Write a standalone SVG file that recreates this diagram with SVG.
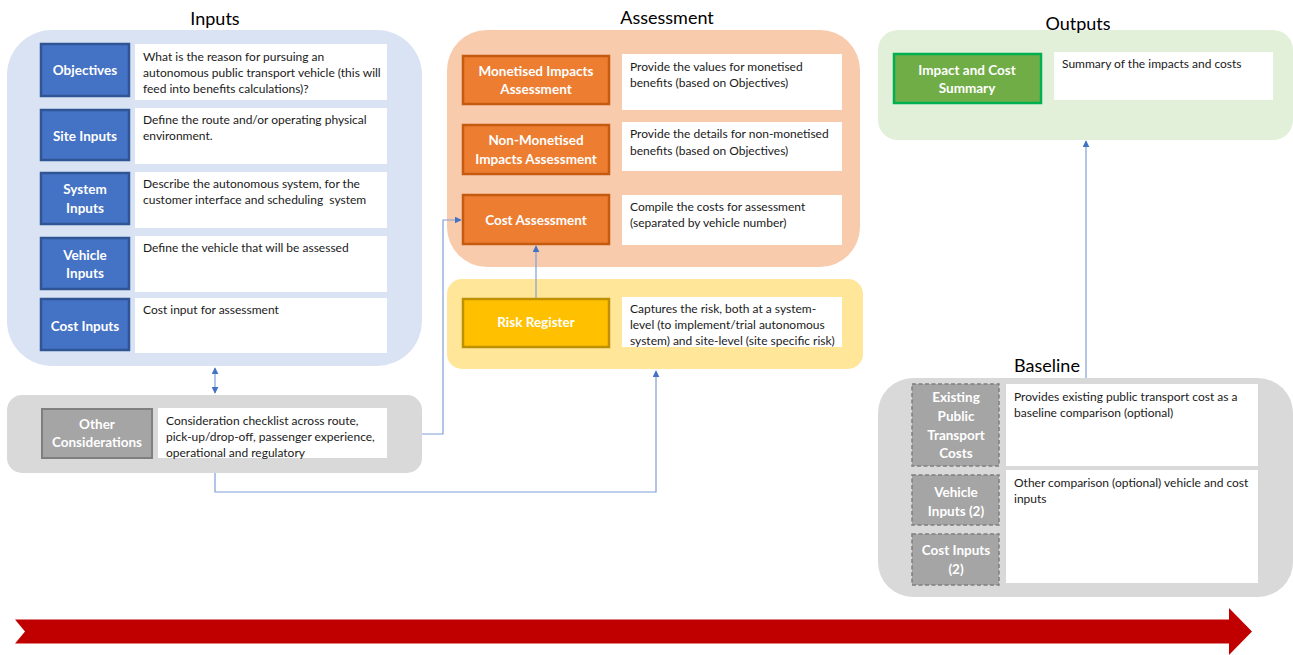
<svg xmlns="http://www.w3.org/2000/svg" width="1293" height="655" viewBox="0 0 1293 655">
<style>
.title{font-family:Lato,"Liberation Sans",sans-serif;font-size:18px;fill:#000;text-anchor:middle}
.lbl{font-family:Lato,"Liberation Sans",sans-serif;font-size:13.5px;font-weight:bold;fill:#fff;text-anchor:middle}
.txt{font-family:Lato,"Liberation Sans",sans-serif;font-size:12px;fill:#1a1a1a}
.wbox{fill:#fff}
.blue{fill:#4472C4;stroke:#2F5597;stroke-width:2.5}
.orange{fill:#ED7D31;stroke:#C55A11;stroke-width:2.5}
.yellow{fill:#FFC000;stroke:#BF9000;stroke-width:2.5}
.green{fill:#70AD47;stroke:#00B050;stroke-width:2.5}
.grey{fill:#A5A5A5;stroke:#7F7F7F;stroke-width:2}
.dgrey{fill:#A5A5A5;stroke:#7F7F7F;stroke-width:1.5;stroke-dasharray:4 2.5}
.conn{fill:none;stroke:#7F9FD8;stroke-width:1.2}
</style>
<defs>
<marker id="ah" viewBox="0 0 10 10" refX="9" refY="5" markerWidth="7" markerHeight="7" orient="auto-start-reverse" markerUnits="userSpaceOnUse">
<path d="M0,0 L10,5 L0,10 z" fill="#4472C4"/>
</marker>
</defs>

<!-- Panels -->
<g id="panel-inputs">
<rect x="7" y="30" width="415" height="336" rx="45" fill="#DAE3F3"/>
<text class="title" x="215" y="25">Inputs</text>
</g>
<g id="panel-other">
<rect x="7" y="395" width="415" height="78" rx="15" fill="#D9D9D9"/>
</g>
<g id="panel-assessment">
<rect x="447" y="30" width="413" height="237" rx="40" fill="#F8CBAD"/>
<text class="title" x="667" y="24">Assessment</text>
</g>
<g id="panel-risk">
<rect x="447" y="279" width="416" height="90" rx="15" fill="#FFE699"/>
</g>
<g id="panel-outputs">
<rect x="878" y="30" width="415" height="110" rx="20" fill="#E2F0D9"/>
<text class="title" x="1078" y="30">Outputs</text>
</g>
<g id="panel-baseline">
<rect x="878" y="378" width="415" height="219" rx="35" fill="#D9D9D9"/>
<text class="title" x="1047" y="372">Baseline</text>
</g>

<!-- Connectors -->
<g id="connectors">
<line class="conn" x1="215" y1="368" x2="215" y2="393" marker-start="url(#ah)" marker-end="url(#ah)"/>
<polyline class="conn" points="422,434 443,434 443,220 461,220" marker-end="url(#ah)"/>
<polyline class="conn" points="215,473 215,492 656,492 656,371" marker-end="url(#ah)"/>
<line class="conn" x1="536" y1="298" x2="536" y2="246" stroke="#B4C3E3" marker-end="url(#ah)"/>
<line class="conn" x1="1086" y1="378" x2="1086" y2="141" marker-end="url(#ah)"/>
</g>

<!-- Inputs nodes -->
<g id="objectives">
<rect class="blue" x="41" y="44" width="88" height="52"/>
<text class="lbl" x="85" y="75">Objectives</text>
<rect class="wbox" x="135" y="44" width="252" height="56"/>
<text class="txt" x="143" y="61">What is the reason for pursuing an</text>
<text class="txt" x="143" y="77">autonomous public transport vehicle (this will</text>
<text class="txt" x="143" y="93">feed into benefits calculations)?</text>
</g>
<g id="site-inputs">
<rect class="blue" x="41" y="110" width="88" height="50"/>
<text class="lbl" x="85" y="141">Site Inputs</text>
<rect class="wbox" x="135" y="108" width="252" height="56"/>
<text class="txt" x="143" y="124">Define the route and/or operating physical</text>
<text class="txt" x="143" y="140">environment.</text>
</g>
<g id="system-inputs">
<rect class="blue" x="41" y="173" width="88" height="51"/>
<text class="lbl" x="85" y="194">System</text>
<text class="lbl" x="85" y="213">Inputs</text>
<rect class="wbox" x="135" y="172" width="252" height="56"/>
<text class="txt" x="143" y="188">Describe the autonomous system, for the</text>
<text class="txt" x="143" y="204" xml:space="preserve">customer interface and scheduling  system</text>
</g>
<g id="vehicle-inputs">
<rect class="blue" x="41" y="238" width="88" height="51"/>
<text class="lbl" x="85" y="260">Vehicle</text>
<text class="lbl" x="85" y="278">Inputs</text>
<rect class="wbox" x="135" y="236" width="252" height="56"/>
<text class="txt" x="143" y="252">Define the vehicle that will be assessed</text>
</g>
<g id="cost-inputs">
<rect class="blue" x="41" y="299" width="88" height="51"/>
<text class="lbl" x="85" y="331">Cost Inputs</text>
<rect class="wbox" x="135" y="298" width="252" height="55"/>
<text class="txt" x="143" y="314">Cost input for assessment</text>
</g>
<g id="other-considerations">
<rect class="grey" x="42" y="409" width="110" height="49"/>
<text class="lbl" x="97" y="429">Other</text>
<text class="lbl" x="97" y="447">Considerations</text>
<rect class="wbox" x="158" y="408" width="229" height="50"/>
<text class="txt" x="166" y="425">Consideration checklist across route,</text>
<text class="txt" x="166" y="441">pick-up/drop-off, passenger experience,</text>
<text class="txt" x="166" y="457">operational and regulatory</text>
</g>

<!-- Assessment nodes -->
<g id="monetised">
<rect class="orange" x="463" y="56" width="146" height="48"/>
<text class="lbl" x="536" y="76">Monetised Impacts</text>
<text class="lbl" x="536" y="94">Assessment</text>
<rect class="wbox" x="622" y="54" width="220" height="56"/>
<text class="txt" x="630" y="71">Provide the values for monetised</text>
<text class="txt" x="630" y="87">benefits (based on Objectives)</text>
</g>
<g id="non-monetised">
<rect class="orange" x="463" y="125" width="146" height="49"/>
<text class="lbl" x="536" y="145">Non-Monetised</text>
<text class="lbl" x="536" y="164">Impacts Assessment</text>
<rect class="wbox" x="622" y="122" width="220" height="49"/>
<text class="txt" x="630" y="138">Provide the details for non-monetised</text>
<text class="txt" x="630" y="155">benefits (based on Objectives)</text>
</g>
<g id="cost-assessment">
<rect class="orange" x="463" y="195" width="146" height="49"/>
<text class="lbl" x="536" y="225">Cost Assessment</text>
<rect class="wbox" x="622" y="195" width="220" height="50"/>
<text class="txt" x="630" y="211">Compile the costs for assessment</text>
<text class="txt" x="630" y="227">(separated by vehicle number)</text>
</g>
<g id="risk-register">
<rect class="yellow" x="463" y="299" width="146" height="48"/>
<text class="lbl" x="536" y="327">Risk Register</text>
<rect class="wbox" x="622" y="297" width="220" height="50"/>
<text class="txt" x="630" y="313">Captures the risk, both at a system-</text>
<text class="txt" x="630" y="329">level (to implement/trial autonomous</text>
<text class="txt" x="630" y="345">system) and site-level (site specific risk)</text>
</g>

<!-- Outputs -->
<g id="impact-cost-summary">
<rect class="green" x="894" y="54" width="147" height="49"/>
<text class="lbl" x="967" y="75">Impact and Cost</text>
<text class="lbl" x="967" y="93">Summary</text>
<rect class="wbox" x="1054" y="52" width="219" height="48"/>
<text class="txt" x="1062" y="68">Summary of the impacts and costs</text>
</g>

<!-- Baseline -->
<g id="existing-pt-costs">
<rect class="dgrey" x="912" y="384" width="87" height="82"/>
<text class="lbl" x="956" y="402">Existing</text>
<text class="lbl" x="956" y="421">Public</text>
<text class="lbl" x="956" y="440">Transport</text>
<text class="lbl" x="956" y="458">Costs</text>
<rect class="wbox" x="1006" y="384" width="252" height="82"/>
<text class="txt" x="1014" y="401">Provides existing public transport cost as a</text>
<text class="txt" x="1014" y="417">baseline comparison (optional)</text>
</g>
<g id="vehicle-inputs-2">
<rect class="dgrey" x="912" y="475" width="87" height="50"/>
<text class="lbl" x="956" y="497">Vehicle</text>
<text class="lbl" x="956" y="516">Inputs (2)</text>
<rect class="wbox" x="1006" y="470" width="252" height="113"/>
<text class="txt" x="1014" y="487">Other comparison (optional) vehicle and cost</text>
<text class="txt" x="1014" y="503">inputs</text>
</g>
<g id="cost-inputs-2">
<rect class="dgrey" x="912" y="534" width="87" height="51"/>
<text class="lbl" x="956" y="555">Cost Inputs</text>
<text class="lbl" x="956" y="574">(2)</text>
</g>

<!-- Timeline arrow -->
<g id="timeline-arrow">
<polygon points="15,619.5 1229,619.5 1229,608 1252,631.5 1229,655 1229,643.5 15,643.5 25,631.5" fill="#C00000"/>
</g>
</svg>
